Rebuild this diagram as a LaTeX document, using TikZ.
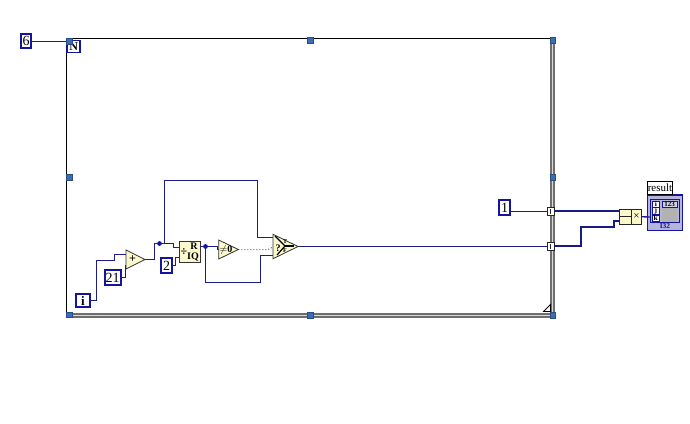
\documentclass[tikz,border=0pt]{standalone}
\usepackage{fontspec}
\setmainfont{Liberation Serif}
\definecolor{wirec}{HTML}{1C1C90}
\definecolor{boxc}{HTML}{14149C}
\definecolor{cream}{HTML}{FBF8CC}
\definecolor{handlec}{HTML}{3A6CB8}
\definecolor{bandc}{HTML}{6E6E6E}
\definecolor{lav}{HTML}{B4B4DC}
\tikzset{
  wire/.style={draw=wirec,line width=1pt,line join=miter},
  thickwire/.style={draw=wirec!90!black,line width=2pt,line join=miter},
  const/.style={draw=boxc,line width=2pt,fill=white,inner sep=0pt,outer sep=0pt,font=\fontsize{14}{14}\selectfont},
  prim/.style={draw=black!80,line width=0.8pt,fill=cream},
  anchorbox/.style={inner sep=0pt,outer sep=0pt,minimum width=#1,minimum height=20pt},
  handle/.style={fill=handlec,draw=handlec!70!black,line width=0.4pt,inner sep=0pt,outer sep=0pt,minimum size=5.5pt},
  tunnel/.style={draw=black!85,line width=0.8pt,fill=white,inner sep=0pt,outer sep=0pt,minimum width=7pt,minimum height=8pt},
  band/.style={draw=bandc,line width=5pt},
  idx/.style={draw=boxc,line width=0.5pt,fill=white,inner sep=0pt,outer sep=0pt,minimum width=7pt,minimum height=6.5pt,font=\fontsize{7.5}{7.5}\selectfont\bfseries},
}
\begin{document}
\begin{tikzpicture}[x=1pt,y=-1pt]
\useasboundingbox (0,0) rectangle (690,423);
\fill[white] (0,0) rectangle (690,423);
% loop frame
\coordinate (tl) at (66.5,38.5);
\coordinate (tr) at (552.5,38.5);
\coordinate (bl) at (66.5,315);
\coordinate (br) at (552.5,315);
\draw[black,line width=1pt] (bl) -- (tl) -- (tr);
\draw[band] (72,315) -- (br) -- (tr);
\draw[white!85!black,line width=0.8pt] (72,315) -- (br) -- (tr);
% fold
\draw[black,fill=white,line width=0.8pt] (543.5,311.5) -- (550.5,304.5) -- (550.5,311.5) -- cycle;
% handles
\foreach \n/\x/\y in {hb/310/40,hc/552.5/40,hd/69/177,he/552.5/177,hf/69/314.5,hg/310/315,hh/552.5/315}
  \node[handle] (\n) at (\x,\y) {};
% nodes
\node[const,minimum width=10.5pt,minimum height=14pt] (six) at (26,41) {6};
\node[draw=boxc,line width=1.8pt,fill=white,inner sep=0pt,minimum width=13pt,minimum height=12pt,font=\fontsize{12}{12}\selectfont\bfseries] (N) at (73.8,46.5) {N};
\node[handle] (ha) at (69,41) {};
\node[const,minimum width=14pt,minimum height=13pt,font=\fontsize{13}{13}\selectfont\bfseries] (i) at (83,300.5) {i};
\node[const,minimum width=16pt,minimum height=15pt] (c21) at (112.5,277.5) {21};
\node[const,minimum width=11pt,minimum height=15pt] (c2) at (166.5,265.5) {2};
\node[const,minimum width=11.5pt,minimum height=14.5pt] (c1) at (504.5,207.5) {1};
\node[anchorbox=19pt,minimum height=19pt] (add) at (135.5,259.5) {};
\node[anchorbox=19.5pt,minimum height=19pt] (nez) at (228.5,249.5) {};
\node[anchorbox=25pt,minimum height=24.5pt] (sel) at (285.5,246.5) {};
\node[draw=black!80,fill=cream,line width=0.8pt,inner sep=0pt,outer sep=0pt,minimum width=21pt,minimum height=21pt] (quo) at (189.5,251.5) {};
\node[tunnel] (t1) at (550.5,211.5) {};
\node[tunnel] (t2) at (550.5,246.5) {};
\draw[black!85,line width=0.7pt] (t1.north) ++(0,1.5) -- ++(0,5);
\draw[black!85,line width=0.7pt] (t2.north) ++(0,1.5) -- ++(0,5);
\node[draw=black!85,line width=0.8pt,fill=cream,inner sep=0pt,outer sep=0pt,minimum width=22.5pt,minimum height=15pt] (mul) at (630.5,216.8) {};
\node[draw=boxc,line width=1.4pt,fill=lav,inner sep=0pt,outer sep=0pt,minimum width=35pt,minimum height=35.5pt] (ind) at (664.8,212.8) {};
\node[draw=black,line width=0.7pt,fill=white,inner sep=0pt,outer sep=0pt,minimum width=25.5pt,minimum height=13pt,font=\fontsize{11}{11}\selectfont] (res) at (660,187.5) {result};
% junctions
\coordinate (j1) at (159.5,243.5);
\coordinate (j2) at (205.5,246.5);
% wires
\draw[wire] (six.east) -- (N.west |- six.east);
\draw[wire] (i.east) -- (96.5,300.5) -- (96.5,260.5) -- (114.5,260.5) -- (114.5,254.5) -- (add.west |- 0,254.5);
\draw[wire] (c21.east) -- (125.5,277.5) -- (125.5,265.5) -- (add.west |- 0,265.5);
\draw[wire] (add.east) -- (154.5,259.5) -- (154.5,243.5) -- (j1) -- (173.5,243.5) -- (173.5,247.5) -- (quo.west |- 0,247.5);
\draw[wire] (j1) -- (164.5,243.5) -- (164.5,180.5) -- (257.5,180.5) -- (257.5,237.5) -- (sel.west |- 0,237.5);
\draw[wire] (c2.east) -- (175.5,265.5) -- (175.5,257.5) -- (quo.west |- 0,257.5);
\draw[wire] (quo.east |- j2) -- (j2) -- (217.5,246.5) -- (217.5,249.5) -- (nez.west);
\draw[wire] (j2) -- (205.5,282.5) -- (260.5,282.5) -- (260.5,255.5) -- (sel.west |- 0,255.5);
\draw[draw=black!60,line width=1pt,dotted] (nez.east) -- (268,249.5) -- (sel.west |- 0,247);
\draw[wire] (sel.east) -- (t2.west);
\draw[wire] (c1.east |- t1) -- (t1.west);
\draw[thickwire] (t1.east |- 0,211) -- (mul.west |- 0,211);
\draw[thickwire] (t2.east |- 0,246) -- (581,246) -- (581,227) -- (614,227) -- (614,221) -- (mul.west |- 0,221);
\draw[wire,line width=1.3pt] (mul.east) -- (652,217);
% primitives
\draw[prim] (add.north west) -- (add.east) -- (add.south west) -- cycle;
\node[font=\fontsize{12}{12}\selectfont\bfseries,inner sep=0pt] at (132.5,259.5) {+};
\draw[prim] (nez.north west) -- (nez.east) -- (nez.south west) -- cycle;
\node[font=\fontsize{10}{10}\selectfont\bfseries,inner sep=0pt] at (226,250) {$\neq$0};
\draw[prim] (sel.north west) -- (sel.east) -- (sel.south west) -- cycle;
\node[font=\fontsize{10}{10}\selectfont\bfseries,inner sep=0pt] at (278,248) {?};
\draw[black,line width=1.2pt] (275,236) -- (285,246) -- (277,255);
\draw[black,line width=1.3pt] (285,246) -- (294,246);
\node[font=\fontsize{6}{6}\selectfont\bfseries,inner sep=0pt] at (285,241.5) {T};
\node[font=\fontsize{6}{6}\selectfont\bfseries,inner sep=0pt] at (285,251) {F};
% quotient
\node[font=\fontsize{12}{12}\selectfont\bfseries,inner sep=0pt] at (184,252) {÷};
\node[font=\fontsize{10}{10}\selectfont\bfseries,inner sep=0pt] at (194,246) {R};
\node[font=\fontsize{10}{10}\selectfont\bfseries,inner sep=0pt] at (193,256.5) {IQ};
\fill[boxc] (j1) circle (2.4pt);
\fill[boxc] (j2) circle (2.4pt);
% multiply
\draw[black!85,line width=0.8pt] (631.3,209.3) -- (631.3,224.3);
\draw[black!85,line width=0.8pt] (619.3,216.8) -- (631.3,216.8);
\node[font=\fontsize{11}{11}\selectfont,inner sep=0pt] at (636.5,217) {×};
% indicator
\draw[boxc,line width=0.5pt,fill=lav] (650.5,199.5) rectangle (679.5,222.5);
\node[idx] (ii) at (655.8,204) {i};
\node[idx] (ij) at (655.8,211) {j};
\node[idx] (ik) at (655.8,218.3) {k};
\node[draw=boxc,line width=0.4pt,fill=lav!60,inner sep=0pt,outer sep=0pt,minimum width=15.5pt,minimum height=6pt,font=\fontsize{7}{7}\selectfont\bfseries] (hdr) at (669.5,204) {123};
\fill[black!30] (661.7,207.5) rectangle (677.3,221.7);
\node[font=\fontsize{7.5}{7.5}\selectfont\bfseries,text=boxc,inner sep=0pt] (lbl) at (665,226.5) {I32};
\end{tikzpicture}
\end{document}
